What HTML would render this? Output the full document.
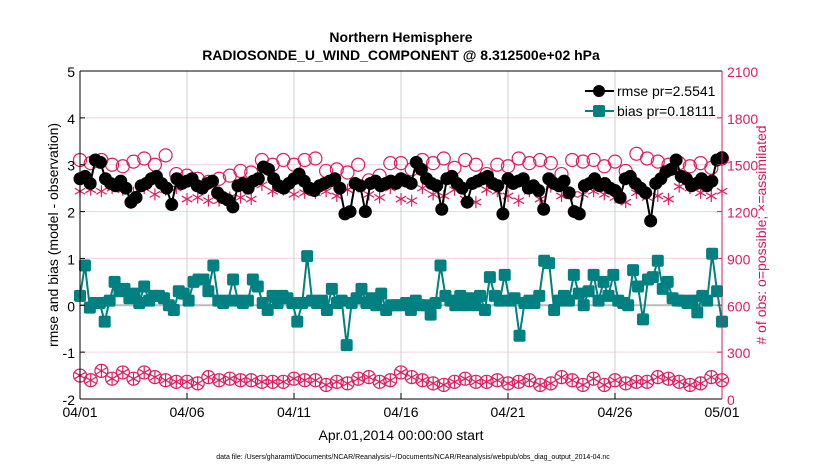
<!DOCTYPE html>
<html><head><meta charset="utf-8"><style>
html,body{margin:0;padding:0;background:#fff;}
svg{display:block;font-family:"Liberation Sans",Arial,sans-serif;}
</style></head><body>
<svg id="chart" width="830" height="470" viewBox="0 0 830 470" xmlns="http://www.w3.org/2000/svg">
<text x="401" y="42" text-anchor="middle" font-size="14" font-weight="bold">Northern Hemisphere</text>
<text x="401" y="60" text-anchor="middle" font-size="14" font-weight="bold">RADIOSONDE_U_WIND_COMPONENT @ 8.312500e+02 hPa</text>
<g id="grid"></g>
<g id="marks"></g>
<g id="axes"></g>
<text x="401" y="440" text-anchor="middle" font-size="14">Apr.01,2014 00:00:00 start</text>
<text transform="translate(58,235) rotate(-90)" text-anchor="middle" font-size="14">rmse and bias (model - observation)</text>
<text transform="translate(766,235) rotate(-90)" text-anchor="middle" font-size="14" fill="#d6185b">#  of obs: o=possible; ×=assimilated</text>
<text x="413" y="459" text-anchor="middle" font-size="7">data file: /Users/gharamti/Documents/NCAR/Reanalysis/~/Documents/NCAR/Reanalysis/webpub/obs_diag_output_2014-04.nc</text>
<g>
<line x1="585" y1="91" x2="614" y2="91" stroke="#000" stroke-width="2"/>
<circle cx="599" cy="91" r="6" fill="#000"/>
<text x="617" y="96" font-size="14">rmse pr=2.5541</text>
<line x1="585" y1="111" x2="614" y2="111" stroke="#008080" stroke-width="2"/>
<rect x="593" y="105" width="12" height="12" rx="2" fill="#008080"/>
<text x="617" y="116" font-size="14">bias pr=0.18111</text>
</g>
</svg>
<script>
const xTickLabels=["04/01","04/06","04/11","04/16","04/21","04/26","05/01"];
const xTickDays=[0,5,10,15,20,25,30];
const leftTicks=[-2,-1,0,1,2,3,4,5];
const rightTicks=[0,300,600,900,1200,1500,1800,2100];
const rmse=[2.7,2.75,2.6,3.1,3.05,2.7,2.6,2.55,2.65,2.5,2.2,2.3,2.55,2.6,2.7,2.75,2.6,2.5,2.15,2.7,2.6,
2.65,2.7,2.55,2.5,2.6,2.65,2.4,2.3,2.25,2.1,2.55,2.6,2.5,2.65,2.7,2.95,2.9,2.7,2.55,2.5,
2.6,2.7,2.8,2.65,2.5,2.45,2.55,2.6,2.65,2.7,2.5,1.95,2.0,2.6,2.55,2.0,2.6,2.65,2.55,2.6,
2.65,2.6,2.7,2.65,2.6,3.05,2.9,2.7,2.6,2.55,2.05,2.7,2.75,2.6,2.5,2.2,2.6,2.65,2.7,2.75,
2.6,2.55,1.95,2.7,2.6,2.65,2.7,2.5,2.55,2.45,2.05,2.7,2.6,2.55,2.65,2.4,2.0,1.95,2.55,2.6,
2.7,2.55,2.6,2.5,2.45,2.3,2.7,2.75,2.6,2.5,2.4,1.8,2.6,2.7,2.85,2.9,3.1,2.75,2.7,2.55,2.6,2.7,2.55,2.65,3.1,3.15];
const bias=[0.2,0.85,-0.05,0.05,0.05,-0.35,0.1,0.5,0.3,0.35,0.15,0.25,0.05,0.4,0.1,0.2,0.2,0.15,0.0,-0.1,
0.3,0.25,0.1,0.5,0.55,0.55,0.3,0.85,0.1,0.05,0.1,0.55,0.1,0.05,0.1,0.55,0.4,0.05,-0.1,0.2,
0.05,0.2,0.15,0.05,-0.35,0.05,1.05,0.1,0.05,0.1,-0.1,0.35,0.05,0.1,-0.85,0.05,0.15,0.35,0.05,0.15,
0.0,0.25,-0.1,0.0,0.0,0.0,0.05,-0.1,0.1,0.0,0.0,-0.2,0.05,0.85,0.2,0.1,0.0,0.2,0.0,0.15,
0.0,0.2,-0.1,0.6,0.2,0.1,0.65,0.1,0.15,-0.65,0.05,0.1,0.05,0.2,0.95,0.9,-0.1,0.1,0.2,0.1,
0.65,0.25,0.0,0.3,0.65,0.1,0.5,0.2,0.65,0.1,0.05,0.0,0.75,0.4,-0.3,0.55,0.6,0.95,0.35,0.5,
0.15,0.1,0.1,0.05,0.1,-0.15,0.2,0.1,1.1,0.3,-0.35];
const obsPossibleHigh=[1530,1510,1530,1500,1490,1520,1540,1500,1560,1440,1430,1410,1390,1410,1430,1460,1450,1530,1500,1530,1500,1530,1540,1460,1470,1450,1500,1400,1430,1510,1510,1470,1530,1510,1540,1480,1530,1500,1440,1500,1490,1540,1510,1530,1510,1440,1530,1520,1530,1490,1520,1460,1570,1540,1520,1500,1510,1490,1510,1480,1540];
const obsAssimHigh=[1330,1340,1330,1350,1340,1320,1350,1310,1340,1350,1280,1290,1270,1270,1290,1290,1280,1370,1330,1340,1310,1320,1320,1330,1300,1340,1360,1310,1290,1350,1280,1270,1350,1310,1300,1340,1280,1260,1340,1330,1300,1270,1330,1280,1360,1300,1310,1310,1330,1310,1290,1260,1320,1290,1300,1280,1360,1350,1320,1300,1330];
const obsLow=[150,120,180,130,170,130,170,140,120,110,110,100,140,120,130,120,120,110,110,110,130,120,120,90,110,100,130,140,110,120,170,140,120,100,90,110,130,110,110,120,100,110,120,90,100,140,120,90,130,90,120,100,110,110,140,130,110,90,100,140,120];
const x0=80,x1=722,yTop=71,yBot=399;
const xs=d=>x0+(d/30)*(x1-x0);
const yL=v=>yBot-(v+2)/7*(yBot-yTop);
const yR=v=>yBot-v/2100*(yBot-yTop);
const NS="http://www.w3.org/2000/svg";
function mk(tag,attrs,parent){const e=document.createElementNS(NS,tag);for(const k in attrs)e.setAttribute(k,attrs[k]);parent.appendChild(e);return e;}
const grid=document.getElementById('grid'),marks=document.getElementById('marks'),axes=document.getElementById('axes');
const pink="#dc1d5e",teal="#008080";
leftTicks.forEach(v=>{const y=yL(v);
 const l=mk('line',{x1:x0,x2:x1,y1:y,y2:y,stroke:v===0?"#bbb":"#f5cfe0","stroke-width":v===0?2:1},grid);
 
 
 const t=mk('text',{x:x0-5,y:y+6,"text-anchor":"end","font-size":14},axes);t.textContent=v;
 
 
 mk('line',{x1:x0,x2:x0+5,y1:y,y2:y,stroke:"#000"},axes);});
rightTicks.forEach(v=>{const y=yR(v);
 const t=mk('text',{x:x1+5,y:y+6,"font-size":14,fill:pink},axes);t.textContent=v;
 
 
 mk('line',{x1:x1-5,x2:x1,y1:y,y2:y,stroke:pink},axes);});
xTickDays.forEach((d,i)=>{const x=xs(d);
 if(i>0&&i<6){const g=mk('line',{x1:x,x2:x,y1:yTop,y2:yBot,stroke:"#d0d0d0"},grid);
 
 }
 mk('line',{x1:x,x2:x,y1:yBot,y2:yBot-6,stroke:"#000"},axes);
 const t=mk('text',{x:x,y:yBot+18,"text-anchor":"middle","font-size":14},axes);t.textContent=xTickLabels[i];
 
 });
mk('line',{x1:x0,x2:x0,y1:yTop,y2:yBot,stroke:"#000"},axes);
mk('line',{x1:x0,x2:x1,y1:yBot,y2:yBot,stroke:"#000"},axes);
mk('line',{x1:x0,x2:x1,y1:yTop,y2:yTop,stroke:"#000"},axes);
mk('line',{x1:x1,x2:x1,y1:yTop,y2:yBot,stroke:pink},axes);
function star(x,y,p){const r=6;[[0,1],[0.87,0.5],[0.87,-0.5]].forEach(([a,b])=>mk('line',{x1:x-a*r,y1:y-b*r,x2:x+a*r,y2:y+b*r,stroke:pink,"stroke-width":1.2},p));}
const nO=obsPossibleHigh.length;
obsPossibleHigh.forEach((v,i)=>{const c=mk('circle',{cx:xs(i*30/(nO-1)),cy:yR(v),r:6.5,fill:"none",stroke:pink,"stroke-width":1.2},marks);
 
 });
obsAssimHigh.forEach((v,i)=>star(xs(i*30/(nO-1)),yR(v),marks));
obsLow.forEach((v,i)=>{const x=xs(i*30/(nO-1)),y=yR(v);
 const c=mk('circle',{cx:x,cy:y,r:6.5,fill:"none",stroke:pink,"stroke-width":1.2},marks);
 
 
 star(x,y,marks);});
function series(arr,color,sq,name){const n=arr.length;
 const pts=arr.map((v,i)=>[xs(i*30/(n-1)),yL(v)]);
 const pl=mk('polyline',{points:pts.map(p=>p.join(',')).join(' '),fill:"none",stroke:color,"stroke-width":2},marks);
 
 
 pts.forEach(p=>{let m;
  if(sq)m=mk('rect',{x:p[0]-6,y:p[1]-6,width:12,height:12,rx:2,fill:color},marks);
  else m=mk('circle',{cx:p[0],cy:p[1],r:6.5,fill:color},marks);
  
  });}
series(rmse,"#000",false,'rmse');
series(bias,teal,true,'bias');
</script>
</body></html>
